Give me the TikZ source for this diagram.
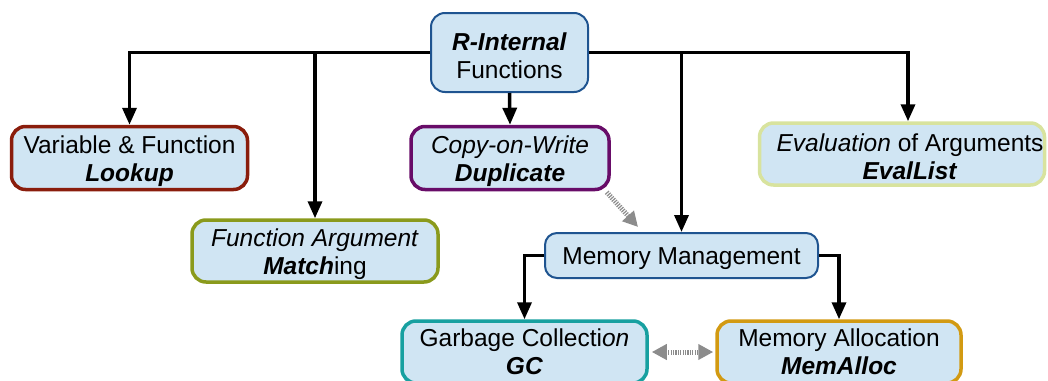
\documentclass[tikz,border=0pt]{standalone}
\usepackage{fontspec}
\setmainfont{Liberation Sans}
\usetikzlibrary{arrows.meta}

\definecolor{boxfill}{HTML}{D0E5F3}
\definecolor{navyline}{HTML}{1F5490}
\definecolor{rustline}{HTML}{8A1D0C}
\definecolor{oliveline}{HTML}{8A9A1C}
\definecolor{plumline}{HTML}{680C68}
\definecolor{paleline}{HTML}{D8E39E}
\definecolor{tealline}{HTML}{17A0A0}
\definecolor{goldline}{HTML}{D29A12}
\definecolor{hintgray}{HTML}{8C8C8C}

% an invisible strut beside the text block sets the text a little lower in its box
\newcommand{\lowerstrut}[1]{\rule{0pt}{#1}}

\tikzset{
  basebox/.style={draw, fill=boxfill, rounded corners=14pt, inner sep=0pt,
    align=center, font=\fontsize{24.5}{28}\selectfont, line width=3.5pt},
  box/.style={basebox, execute at begin node=\lowerstrut{52pt}},
  thinbox/.style={box, line width=2pt},
  onelinebox/.style={basebox, line width=2pt, rounded corners=12pt,
    execute at begin node=\lowerstrut{24pt}},
  conn/.style={line width=3.5pt, -{Triangle[width=14pt,length=17pt]}},
  hint/.style={draw=hintgray, line width=5pt, dash pattern=on 1.2pt off 1.2pt,
    {Triangle[width=15pt,length=15pt]}-{Triangle[width=15pt,length=15pt]}},
  hintone/.style={hint, -{Triangle[width=15pt,length=15pt]}}
}

\begin{document}
\begin{tikzpicture}[x=1pt, y=-1pt]
  \useasboundingbox (0,0) rectangle (1048,380);
  \clip (0,0) rectangle (1048,380);

  % boxes
  \node[thinbox, draw=navyline, minimum width=157pt, minimum height=79pt]
    (root) at (509.5,52.5) {\textbf{\textit{R-Internal}}\\Functions};
  \node[box, draw=rustline, minimum width=236pt, minimum height=63pt]
    (lookup) at (129.5,158) {Variable \& Function\\\textbf{\textit{Lookup}}};
  \node[box, draw=oliveline, minimum width=246pt, minimum height=62pt]
    (match) at (315,251) {\textit{Function Argument}\\\textbf{\textit{Match}}ing};
  \node[box, draw=plumline, minimum width=198pt, minimum height=63pt]
    (dup) at (510,158) {\textit{Copy-on-Write}\\\textbf{\textit{Duplicate}}};
  \node[box, draw=paleline, minimum width=285pt, minimum height=62pt]
    (eval) at (902,154) {\hspace*{16pt}\textit{Evaluation} of Arguments\\\hspace*{16pt}\textbf{\textit{EvalList}}};
  \node[onelinebox, draw=navyline, minimum width=273pt, minimum height=45pt]
    (mem) at (681.5,255.5) {Memory Management};
  \node[basebox, draw=tealline, minimum width=245pt, minimum height=62pt]
    (gc) at (524.5,352) {Garbage Collecti\textit{on}\\\textbf{\textit{GC}}};
  \node[basebox, draw=goldline, minimum width=244pt, minimum height=62pt]
    (alloc) at (839,352) {Memory Allocation\\\textbf{\textit{MemAlloc}}};

  % tree connectors
  \draw[conn] (root.west) -| (lookup.north);
  \draw[conn] (root.west) -| (match.north);
  \draw[conn] (root.south) -- (dup.north);
  \draw[conn] (root.east) -| (mem.north);
  \draw[conn] (root.east) -| ([xshift=6pt]eval.north);
  \draw[conn] (mem.west) -| (gc.north);
  \draw[conn] (mem.east) -| (alloc.north);

  % dotted hints
  \coordinate (memhint) at (638,227);
  \draw[hintone] ([xshift=-4pt,yshift=-1pt]dup.south east) -- (memhint);
  \draw[hint] ([xshift=3pt]gc.east) -- ([xshift=-2pt]alloc.west);
\end{tikzpicture}
\end{document}
